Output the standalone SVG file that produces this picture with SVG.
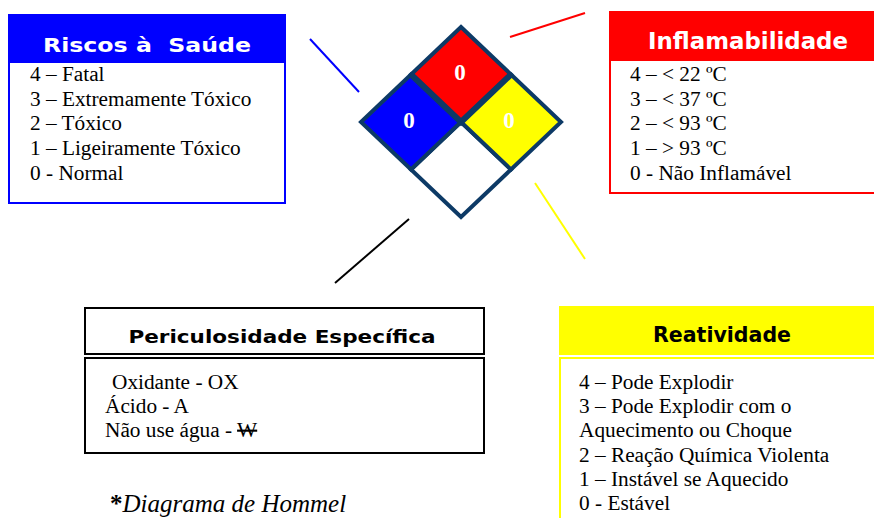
<svg xmlns="http://www.w3.org/2000/svg" width="874" height="518" viewBox="0 0 874 518">
<style>
.body{font-size:21.3px;fill:#000}
.hd{font-weight:bold;text-anchor:middle}
.num{font-weight:bold;font-size:23px;fill:#fff;text-anchor:middle}
.dia{stroke:#0d3a66;stroke-width:4;stroke-linejoin:miter}
.conn{stroke-width:2;fill:none}
</style>
<rect width="874" height="518" fill="#fff"/>

<g id="connectors">
  <line class="conn" x1="310" y1="39" x2="359" y2="92" stroke="#0000ff"/>
  <line class="conn" x1="510" y1="37" x2="585" y2="13" stroke="#ff0000"/>
  <line class="conn" x1="535" y1="183" x2="585" y2="259" stroke="#ffff00"/>
  <line class="conn" x1="409" y1="219" x2="335" y2="283" stroke="#000000"/>
</g>

<g id="node-diamond" font-family="'Liberation Serif', 'Times New Roman', serif">
  <polygon class="dia" points="461,122 511,169.5 461,217 411,169.5" fill="#fff"/>
  <polygon class="dia" points="411,74.5 461,122 411,169.5 361,122" fill="#0000ff"/>
  <polygon class="dia" points="511,74.5 561,122 511,169.5 461,122" fill="#ffff00"/>
  <polygon class="dia" points="461,27 511,74.5 461,122 411,74.5" fill="#ff0000"/>
  <polyline points="411,74.5 461,122 511,74.5" fill="none" stroke="#0d3a66" stroke-width="6"/>
  <text class="num" x="460" y="80">0</text>
  <text class="num" x="409" y="128">0</text>
  <text class="num" x="509" y="128">0</text>
</g>

<g id="node-saude">
  <rect x="9" y="62" width="276" height="141" fill="#fff" stroke="#0000ff" stroke-width="2"/>
  <rect x="8" y="14" width="278" height="49" fill="#0000ff"/>
  <text class="hd" font-family="'DejaVu Sans', 'Liberation Sans', sans-serif" x="147" y="52" font-size="19.5" fill="#fff" textLength="208" lengthAdjust="spacingAndGlyphs">Riscos à&#160; Saúde</text>
  <g font-family="'Liberation Serif', 'Times New Roman', serif">
  <text class="body" x="30" y="81">4 – Fatal</text>
  <text class="body" x="30" y="106">3 – Extremamente Tóxico</text>
  <text class="body" x="30" y="130">2 – Tóxico</text>
  <text class="body" x="30" y="155">1 – Ligeiramente Tóxico</text>
  <text class="body" x="30" y="180">0 - Normal</text>
  </g>
</g>

<g id="node-inflamabilidade">
  <rect x="610" y="60" width="270" height="133" fill="#fff" stroke="#ff0000" stroke-width="2"/>
  <rect x="609" y="11" width="270" height="49" fill="#ff0000"/>
  <text class="hd" font-family="'DejaVu Sans', 'Liberation Sans', sans-serif" x="748" y="49" font-size="23" fill="#fff" textLength="200" lengthAdjust="spacingAndGlyphs">Inflamabilidade</text>
  <g font-family="'Liberation Serif', 'Times New Roman', serif">
  <text class="body" x="630" y="81">4 – &lt; 22 ºC</text>
  <text class="body" x="630" y="106">3 – &lt; 37 ºC</text>
  <text class="body" x="630" y="130">2 – &lt; 93 ºC</text>
  <text class="body" x="630" y="155">1 – &gt; 93 ºC</text>
  <text class="body" x="630" y="180">0 - Não Inflamável</text>
  </g>
</g>

<g id="node-periculosidade">
  <rect x="85" y="308" width="399" height="46" fill="#fff" stroke="#000" stroke-width="2"/>
  <rect x="85" y="358" width="399" height="95" fill="#fff" stroke="#000" stroke-width="2"/>
  <text class="hd" font-family="'DejaVu Sans', 'Liberation Sans', sans-serif" x="282" y="343" font-size="18" fill="#000" textLength="307" lengthAdjust="spacingAndGlyphs">Periculosidade Específica</text>
  <g font-family="'Liberation Serif', 'Times New Roman', serif">
  <text class="body" x="112" y="389">Oxidante - OX</text>
  <text class="body" x="105" y="413">Ácido - A</text>
  <text class="body" x="105" y="437">Não use água - <tspan text-decoration="line-through">W</tspan></text>
  </g>
</g>

<g id="node-reatividade">
  <rect x="559" y="306" width="320" height="49" fill="#ffff00"/>
  <rect x="560" y="358" width="320" height="170" fill="#fff" stroke="#ffff00" stroke-width="2"/>
  <text class="hd" font-family="'DejaVu Sans', 'Liberation Sans', sans-serif" x="722" y="342" font-size="21" fill="#000" textLength="138" lengthAdjust="spacingAndGlyphs">Reatividade</text>
  <g font-family="'Liberation Serif', 'Times New Roman', serif">
  <text class="body" x="579" y="389">4 – Pode Explodir</text>
  <text class="body" x="579" y="413">3 – Pode Explodir com o</text>
  <text class="body" x="579" y="437">Aquecimento ou Choque</text>
  <text class="body" x="579" y="462">2 – Reação Química Violenta</text>
  <text class="body" x="579" y="486">1 – Instável se Aquecido</text>
  <text class="body" x="579" y="510">0 - Estável</text>
  </g>
</g>

<g id="caption">
  <text x="110" y="512" font-family="'Liberation Serif', 'Times New Roman', serif" font-size="25" font-style="italic"><tspan font-weight="bold" font-style="normal">*</tspan>Diagrama de Hommel</text>
</g>
</svg>
